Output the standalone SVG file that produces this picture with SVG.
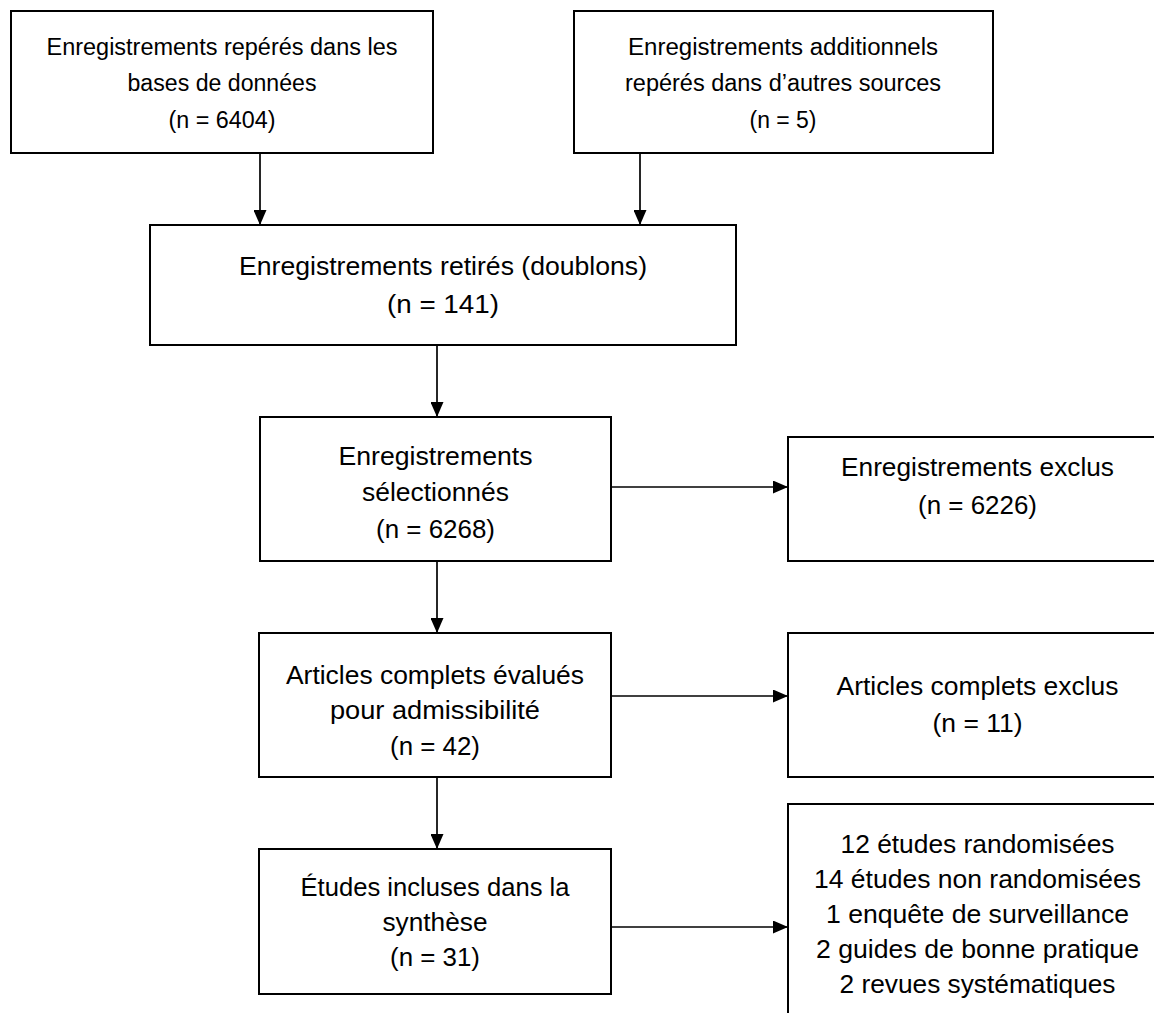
<svg xmlns="http://www.w3.org/2000/svg" width="1154" height="1013" viewBox="0 0 1154 1013">
<defs>
<marker id="ah" viewBox="0 0 15 13" refX="15" refY="6.5" markerWidth="15" markerHeight="13" markerUnits="userSpaceOnUse" orient="auto">
<path d="M0,0 L15,6.5 L0,13 Z" fill="#000"/>
</marker>
<style>
.box{fill:#fff;stroke:#000;stroke-width:2}
.t{font-family:"Liberation Sans",Arial,sans-serif;font-size:26px;fill:#000;text-anchor:middle}
.s{font-size:23.3px}
.c{stroke:#000;stroke-width:1.7;fill:none;marker-end:url(#ah)}
</style>
</defs>
<rect width="1154" height="1013" fill="#fff"/>
<g id="connectors">
<line class="c" x1="260" y1="153" x2="260" y2="225"/>
<line class="c" x1="640" y1="153" x2="640" y2="225"/>
<line class="c" x1="437" y1="345" x2="437" y2="417"/>
<line class="c" x1="611" y1="487" x2="788" y2="487"/>
<line class="c" x1="437" y1="561" x2="437" y2="633"/>
<line class="c" x1="611" y1="696" x2="788" y2="696"/>
<line class="c" x1="437" y1="777" x2="437" y2="849"/>
<line class="c" x1="611" y1="927" x2="788" y2="927"/>
</g>
<g id="n1">
<rect class="box" x="11" y="11" width="422" height="142"/>
<text class="t s" x="222" y="55" textLength="351" lengthAdjust="spacingAndGlyphs">Enregistrements repérés dans les</text>
<text class="t s" x="222" y="91" textLength="189" lengthAdjust="spacingAndGlyphs">bases de données</text>
<text class="t s" x="222" y="128" textLength="107" lengthAdjust="spacingAndGlyphs">(n = 6404)</text>
</g>
<g id="n2">
<rect class="box" x="574" y="11" width="419" height="142"/>
<text class="t s" x="783" y="55" textLength="310" lengthAdjust="spacingAndGlyphs">Enregistrements additionnels</text>
<text class="t s" x="783" y="91" textLength="316" lengthAdjust="spacingAndGlyphs">repérés dans d’autres sources</text>
<text class="t s" x="783" y="128" textLength="67" lengthAdjust="spacingAndGlyphs">(n = 5)</text>
</g>
<g id="n3">
<rect class="box" x="150" y="225" width="586" height="120"/>
<text class="t" x="443" y="275" textLength="408" lengthAdjust="spacingAndGlyphs">Enregistrements retirés (doublons)</text>
<text class="t" x="443" y="313" textLength="112" lengthAdjust="spacingAndGlyphs">(n =  141)</text>
</g>
<g id="n4">
<rect class="box" x="260" y="417" width="351" height="144"/>
<text class="t" x="435.5" y="465" textLength="194" lengthAdjust="spacingAndGlyphs">Enregistrements</text>
<text class="t" x="435.5" y="501" textLength="147" lengthAdjust="spacingAndGlyphs">sélectionnés</text>
<text class="t" x="435.5" y="538" textLength="119" lengthAdjust="spacingAndGlyphs">(n = 6268)</text>
</g>
<g id="n5">
<rect class="box" x="788" y="437" width="379" height="124"/>
<text class="t" x="977.5" y="476" textLength="273" lengthAdjust="spacingAndGlyphs">Enregistrements exclus</text>
<text class="t" x="977.5" y="514" textLength="119" lengthAdjust="spacingAndGlyphs">(n = 6226)</text>
</g>
<g id="n6">
<rect class="box" x="259" y="633" width="352" height="144"/>
<text class="t" x="435" y="684" textLength="298" lengthAdjust="spacingAndGlyphs">Articles complets évalués</text>
<text class="t" x="435" y="719" textLength="210" lengthAdjust="spacingAndGlyphs">pour admissibilité</text>
<text class="t" x="435" y="755" textLength="90" lengthAdjust="spacingAndGlyphs">(n = 42)</text>
</g>
<g id="n7">
<rect class="box" x="788" y="633" width="379" height="144"/>
<text class="t" x="977.5" y="695" textLength="282" lengthAdjust="spacingAndGlyphs">Articles complets exclus</text>
<text class="t" x="977.5" y="732" textLength="90" lengthAdjust="spacingAndGlyphs">(n = 11)</text>
</g>
<g id="n8">
<rect class="box" x="259" y="849" width="352" height="145"/>
<text class="t" x="435" y="896" textLength="269" lengthAdjust="spacingAndGlyphs">Études incluses dans la</text>
<text class="t" x="435" y="931" textLength="105" lengthAdjust="spacingAndGlyphs">synthèse</text>
<text class="t" x="435" y="966" textLength="90" lengthAdjust="spacingAndGlyphs">(n = 31)</text>
</g>
<g id="n9">
<rect class="box" x="788" y="804" width="379" height="230"/>
<text class="t" x="977.5" y="853" textLength="274" lengthAdjust="spacingAndGlyphs">12 études randomisées</text>
<text class="t" x="977.5" y="888" textLength="327" lengthAdjust="spacingAndGlyphs">14 études non randomisées</text>
<text class="t" x="977.5" y="923" textLength="303" lengthAdjust="spacingAndGlyphs">1 enquête de surveillance</text>
<text class="t" x="977.5" y="958" textLength="323" lengthAdjust="spacingAndGlyphs">2 guides de bonne pratique</text>
<text class="t" x="977.5" y="993" textLength="276" lengthAdjust="spacingAndGlyphs">2 revues systématiques</text>
</g>
</svg>
